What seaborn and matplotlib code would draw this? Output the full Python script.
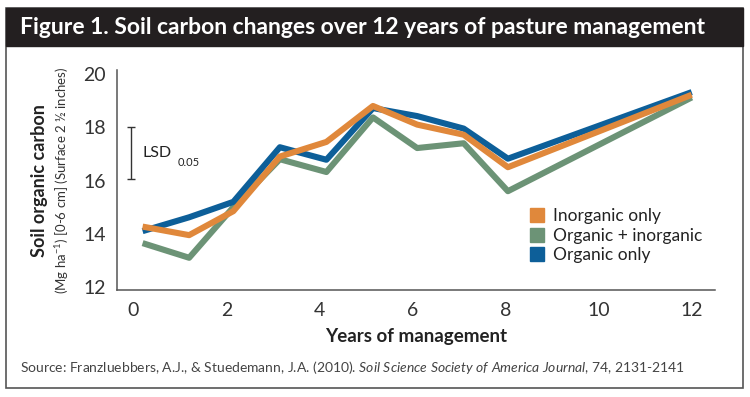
import seaborn as sns
import matplotlib.pyplot as plt
import pandas as pd
from matplotlib.patches import Rectangle
from matplotlib.lines import Line2D

# data
years = [0.2, 1.2, 2.15, 3.15, 4.15, 5.15, 6.1, 7.1, 8.05, 12.0]
inorganic_only = [14.27, 13.95, 14.85, 16.9, 17.45, 18.8, 18.1, 17.72, 16.5, 19.22]
organic_inorganic = [13.65, 13.1, 15.0, 16.8, 16.32, 18.37, 17.22, 17.4, 15.6, 19.12]
organic_only = [14.1, 14.62, 15.2, 17.25, 16.78, 18.72, 18.42, 17.95, 16.82, 19.32]

series_names = ["Inorganic only", "Organic + inorganic", "Organic only"]
colors = {"Inorganic only": "#e0883b",
          "Organic + inorganic": "#6c9376",
          "Organic only": "#0d5f99"}

lsd_low, lsd_high = 16.05, 18.0

df = pd.DataFrame({
    "year": years * 3,
    "carbon": inorganic_only + organic_inorganic + organic_only,
    "treatment": ["Inorganic only"] * len(years)
                 + ["Organic + inorganic"] * len(years)
                 + ["Organic only"] * len(years),
})

sns.set_style("white")
plt.rcParams['font.family'] = ['Lato', 'DejaVu Sans']
plt.rcParams['mathtext.fontset'] = 'custom'
plt.rcParams['mathtext.rm'] = 'Lato'
plt.rcParams['mathtext.it'] = 'Lato:italic'

fig = plt.figure(figsize=(7.5, 3.97), dpi=100)
ax = fig.add_axes([117 / 750, 1 - 290 / 397, 598 / 750, 220 / 397])

# draw green first, then blue, orange on top
sns.lineplot(data=df, x="year", y="carbon", hue="treatment",
             hue_order=["Organic + inorganic", "Organic only", "Inorganic only"],
             palette=colors, linewidth=4.4, ax=ax, legend=False,
             solid_capstyle="butt")

ax.set_xlim(-0.35, 12.5)
ax.set_ylim(11.89, 20.15)
ax.set_xticks([0, 2, 4, 6, 8, 10, 12])
ax.set_yticks([12, 14, 16, 18, 20])
ax.tick_params(axis="both", length=0, labelsize=14, colors="#333333")
ax.tick_params(axis="x", pad=9)
ax.tick_params(axis="y", pad=8)
sns.despine(ax=ax)
for s in ["left", "bottom"]:
    ax.spines[s].set_color("#555555")
    ax.spines[s].set_linewidth(1.1)

ax.set_xlabel("Years of management", fontsize=13.5, fontweight="bold",
              color="#222222", labelpad=6)
ax.set_ylabel("")

# LSD bar
ax.errorbar([-0.04], [(lsd_low + lsd_high) / 2], yerr=[(lsd_high - lsd_low) / 2],
            color="#333333", capsize=3, linewidth=1, capthick=1)
ax.text(0.2, 16.9, "LSD", fontsize=11.5, color="#222222", va="baseline")
ax.text(0.95, 16.9, "0.05", fontsize=8, color="#222222", va="top")

# legend with square markers
handles = [Line2D([], [], marker="s", linestyle="none", markersize=10,
                  markerfacecolor=colors[n], markeredgecolor=colors[n])
           for n in series_names]
ax.legend(handles, series_names, loc="lower right", bbox_to_anchor=(1.005, 0.05),
          frameon=False, fontsize=12.5, handletextpad=0.4, labelspacing=0.2,
          handlelength=1.0, labelcolor="#222222")

# y labels (two lines)
fig.text(0.053, 0.545, "Soil organic carbon", rotation=90, fontsize=13,
         fontweight="bold", ha="center", va="center", color="#222222")
fig.text(0.083, 0.545, "(Mg ha$^{-1}$) [0-6 cm] (Surface 2 \u00bd inches)",
         rotation=90, fontsize=9.5, ha="center", va="center", color="#333333")

# frame and title bar
fig.patches.append(Rectangle((6 / 750, 1 - 388 / 397), 737 / 750, 380 / 397,
                             transform=fig.transFigure, fill=False,
                             edgecolor="#555555", linewidth=1.2))
fig.patches.append(Rectangle((6 / 750, 1 - 46 / 397), 737 / 750, 38 / 397,
                             transform=fig.transFigure, facecolor="#231f20",
                             edgecolor="#231f20"))
fig.text(0.027, 1 - 27 / 397, "Figure 1. Soil carbon changes over 12 years of pasture management",
         fontsize=16.5, fontweight="bold", color="white", va="center", ha="left")

fig.text(0.027, 1 - 368 / 397,
         "Source: Franzluebbers, A.J., & Stuedemann, J.A. (2010). $\\it{Soil\\ Science\\ Society\\ of\\ America\\ Journal}$, $\\it{74}$, 2131-2141",
         fontsize=10, color="#444444", va="center", ha="left")

fig.savefig("out.png", dpi=100)
